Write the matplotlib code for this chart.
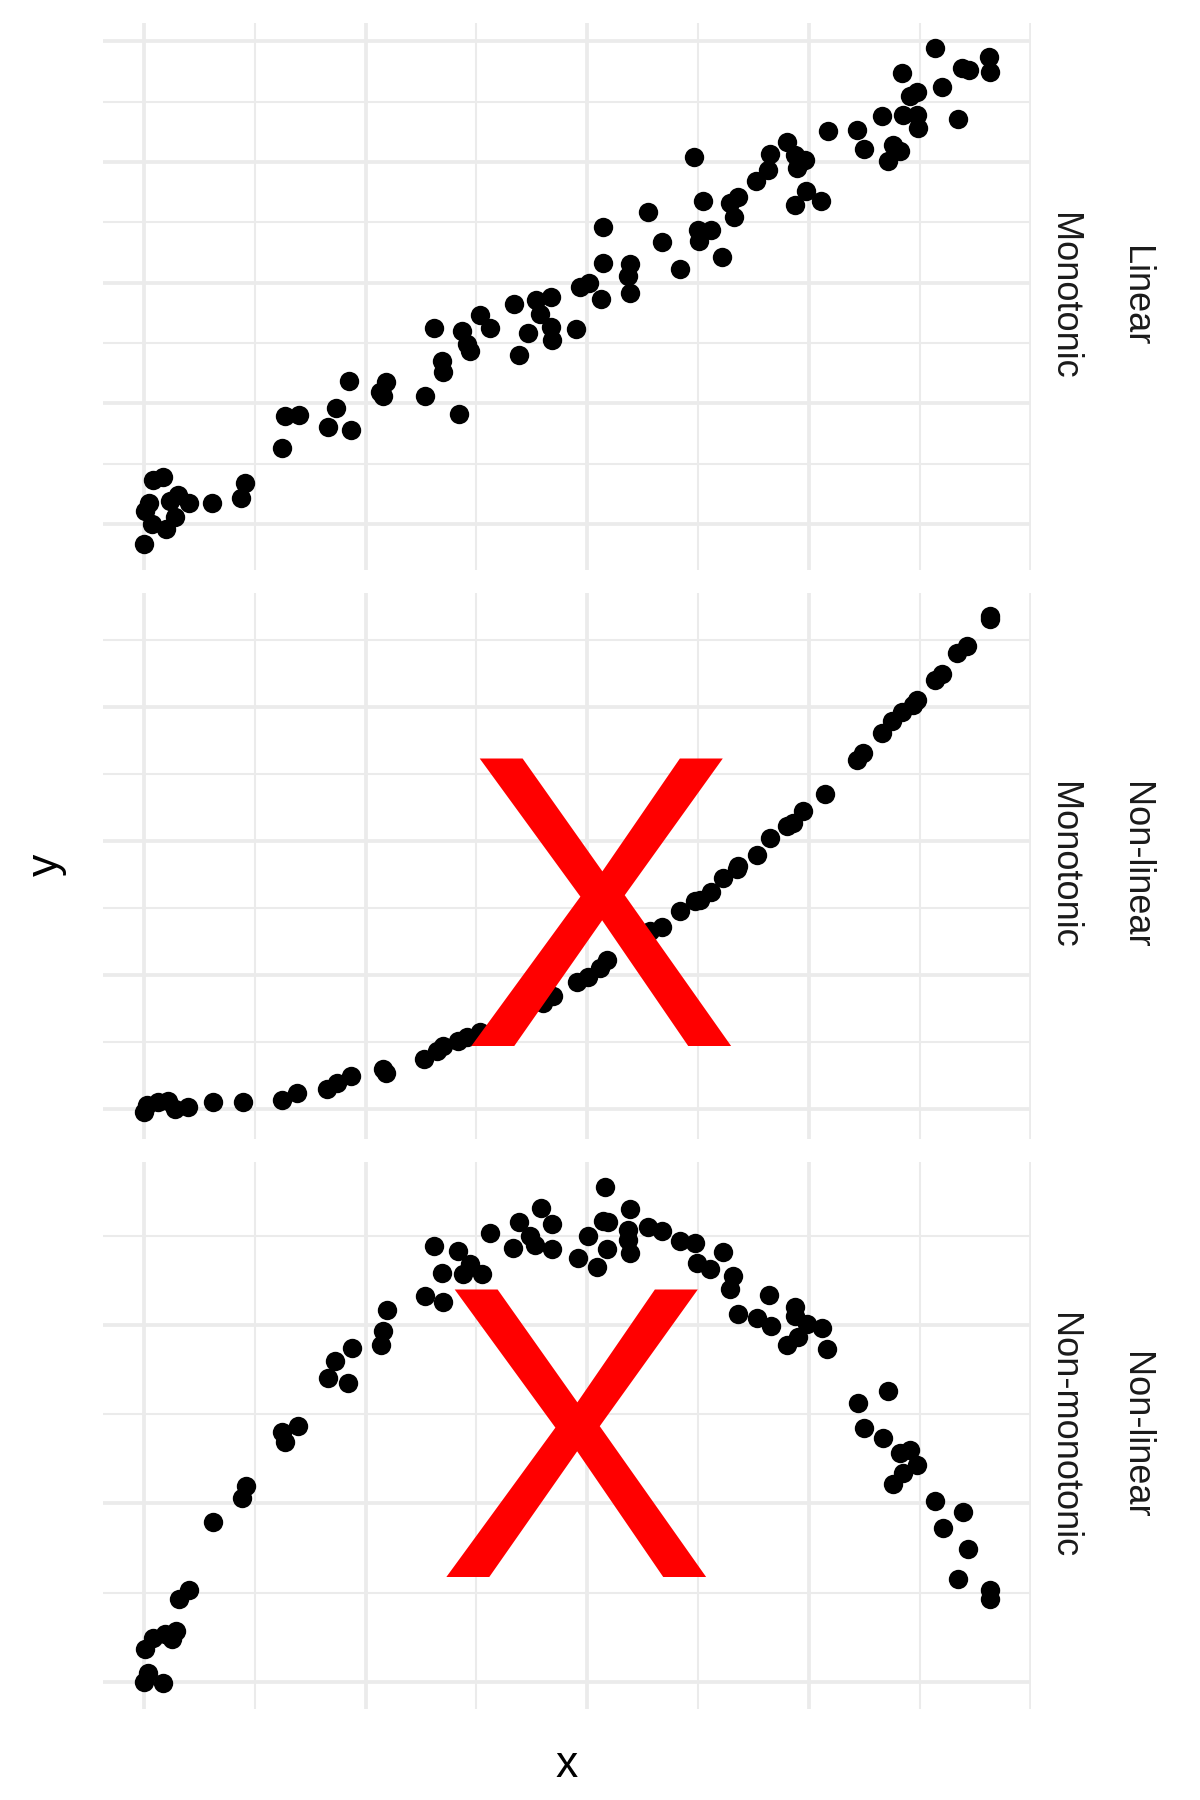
import matplotlib
matplotlib.use('Agg')
import matplotlib.pyplot as plt
from matplotlib.ticker import MultipleLocator

# values (x on a 0-100 scale, y in panel units)
lin_x = [0.0, 0.08, 0.51, 0.89, 1.03, 2.19, 2.45, 2.97, 3.53, 3.87, 5.12, 7.72, 10.91, 11.43,
         15.57, 15.87, 17.47, 20.76, 21.66, 23.38, 23.08, 26.62, 26.93, 27.35, 31.67, 32.71,
         33.61, 33.75, 35.52, 35.86, 36.42, 36.77, 37.93, 39.02, 41.74, 42.30, 43.33, 44.20,
         44.71, 45.92, 45.92, 46.04, 48.73, 49.16, 50.24, 51.55, 51.78, 51.78, 54.82, 54.54,
         54.82, 56.83, 58.43, 60.51, 62.02, 62.45, 62.57, 63.01, 63.96, 65.25, 66.10, 66.55,
         67.06, 69.04, 70.43, 70.65, 72.51, 73.46, 74.53, 73.67, 73.46, 74.62, 76.39, 77.12,
         80.45, 81.23, 83.29, 83.90, 84.46, 85.32, 85.46, 85.63, 86.40, 87.18, 87.18, 87.26,
         89.21, 90.07, 91.80, 92.24, 93.09, 95.34, 95.38]
lin_y = [-4.18, 2.71, 4.29, 0.10, 9.13, 9.84, -1.10, 4.70, 1.53, 6.05, 4.45, 4.45, 5.32, 8.43,
         15.78, 22.45, 22.62, 19.99, 24.11, 19.43, 29.66, 27.28, 26.49, 29.49, 26.49, 40.67,
         33.70, 31.48, 22.84, 40.03, 37.20, 35.77, 43.37, 40.59, 45.52, 34.98, 39.56, 46.31,
         43.53, 47.09, 40.76, 38.21, 40.36, 49.08, 49.87, 46.60, 54.05, 61.59, 53.85, 51.46,
         47.84, 64.53, 58.42, 52.87, 76.03, 60.97, 58.59, 66.91, 60.97, 55.25, 66.52, 63.50,
         67.70, 71.12, 73.25, 76.67, 79.03, 76.42, 75.38, 73.64, 66.13, 68.88, 66.91, 81.41,
         81.58, 77.60, 84.58, 75.24, 78.41, 77.21, 93.46, 84.75, 88.70, 89.51, 84.75, 81.97,
         98.68, 90.44, 83.79, 94.42, 94.09, 96.63, 93.61]

exp_x = [0.0, 0.30, 1.61, 2.74, 3.50, 5.00, 7.75, 11.20, 15.53, 17.29, 20.61, 21.80, 23.32,
         26.99, 27.30, 31.58, 33.02, 33.76, 35.45, 36.40, 37.90, 45.04, 46.17, 48.81, 50.12,
         51.44, 52.23, 57.08, 58.43, 60.46, 62.15, 62.72, 63.96, 65.31, 66.86, 67.04, 69.11,
         70.61, 72.50, 73.24, 74.37, 76.82, 80.39, 81.14, 83.21, 84.34, 85.47, 86.78, 87.16,
         89.22, 89.98, 91.67, 92.80, 95.43, 95.43]
exp_y = [-0.63, 0.67, 1.23, 1.34, 0.0, 0.34, 1.23, 1.23, 1.68, 3.00, 3.66, 4.80, 6.14, 7.33,
         6.66, 9.33, 10.67, 11.68, 12.67, 13.36, 14.33, 19.71, 21.10, 23.68, 24.61, 26.24,
         27.73, 33.14, 33.98, 36.78, 38.74, 39.00, 40.42, 43.12, 44.65, 45.33, 47.32, 50.49,
         52.79, 53.29, 55.46, 58.78, 64.97, 66.32, 70.09, 72.33, 74.01, 75.31, 76.32, 79.98,
         81.17, 84.98, 86.32, 91.30, 91.97]

par_x = [0.0, 0.49, 2.18, 0.11, 1.05, 2.37, 3.12, 3.61, 3.95, 5.11, 7.75, 11.02, 11.47, 15.53,
         15.90, 17.41, 20.79, 21.54, 23.04, 23.43, 26.73, 26.99, 27.38, 31.70, 33.76, 33.58,
         32.75, 35.45, 36.02, 36.77, 38.09, 39.03, 41.66, 42.33, 43.54, 44.10, 44.75, 45.99,
         45.99, 48.92, 50.12, 51.07, 52.00, 54.82, 51.81, 52.37, 52.19, 54.63, 54.63, 54.82,
         56.89, 58.40, 60.46, 62.15, 62.35, 63.84, 65.28, 66.47, 66.10, 70.53, 67.04, 69.11,
         70.69, 73.43, 73.43, 74.75, 76.44, 73.81, 72.50, 77.08, 80.51, 83.96, 81.25, 83.33,
         85.28, 86.40, 87.16, 85.65, 84.45, 89.22, 92.35, 90.09, 92.98, 91.85, 95.43, 95.43]
par_y = [0.06, 1.29, -0.21, 4.61, 6.22, 6.75, 5.95, 7.13, 11.68, 12.91, 22.40, 25.77, 27.38,
         35.04, 33.64, 35.78, 42.55, 44.90, 41.85, 46.77, 47.21, 49.08, 52.02, 54.01, 53.26,
         57.22, 60.97, 60.33, 57.11, 58.45, 57.11, 62.90, 60.70, 64.34, 62.47, 61.14, 66.33,
         64.08, 60.61, 59.36, 62.47, 58.03, 69.33, 66.22, 64.51, 64.34, 60.59, 63.27, 61.94,
         60.06, 63.64, 63.17, 61.67, 61.40, 58.62, 57.75, 60.23, 56.84, 55.08, 54.17, 51.49,
         50.95, 49.77, 52.56, 51.23, 50.15, 49.50, 48.27, 47.21, 46.66, 39.00, 40.67, 35.57,
         34.19, 32.05, 32.47, 30.32, 29.25, 27.75, 25.40, 23.79, 21.49, 18.65, 14.36, 12.91,
         11.58]

strip_outer = ['Linear', 'Non-linear', 'Non-linear']
strip_inner = ['Monotonic', 'Monotonic', 'Non-monotonic']
# red X marks: (panel index, x centre, baseline y)
cross_marks = [(1, 51.5, 11.68), (2, 48.7, 14.63)]

panels = [(lin_x, lin_y), (exp_x, exp_y), (par_x, par_y)]
ylims = [(-9.42, 103.76), (-5.67, 96.3), (-3.72, 72.8)]
bottoms = [0.68361, 0.36722, 0.05083]

FONT = 'Liberation Sans'
grid_col = '#EBEBEB'

fig = plt.figure(figsize=(12, 18), dpi=100)
axes = []
for i, (xs, ys) in enumerate(panels):
    ax = fig.add_axes([0.0855, bottoms[i], 0.7737, 0.30361])
    ax.scatter(xs, ys, s=195, c='black', linewidths=0, zorder=3)
    ax.set_xlim(-4.67, 100.06)
    ax.set_ylim(*ylims[i])
    ax.xaxis.set_major_locator(MultipleLocator(25))
    ax.xaxis.set_minor_locator(MultipleLocator(12.5))
    ax.yaxis.set_major_locator(MultipleLocator(25))
    ax.yaxis.set_minor_locator(MultipleLocator(12.5))
    ax.grid(which='major', color=grid_col, linewidth=2.7)
    ax.grid(which='minor', color=grid_col, linewidth=1.5)
    ax.set_axisbelow(True)
    ax.tick_params(which='both', length=0, labelbottom=False, labelleft=False)
    for s in ax.spines.values():
        s.set_visible(False)

    # facet strips on the right
    ax.text(1.1028, 0.5, strip_outer[i], transform=ax.transAxes, rotation=-90,
            rotation_mode='anchor', ha='center', va='baseline', fontsize=26,
            family=FONT, color='#1A1A1A')
    ax.text(1.0248, 0.5, strip_inner[i], transform=ax.transAxes, rotation=-90,
            rotation_mode='anchor', ha='center', va='baseline', fontsize=26,
            family=FONT, color='#1A1A1A')
    axes.append(ax)

for idx, cx, cy in cross_marks:
    axes[idx].text(cx, cy, 'X', color='#FF0000', fontsize=300, ha='center',
                   va='baseline', family=FONT, zorder=4)

fig.text(0.4722, 0.01294, 'x', ha='center', va='baseline', fontsize=32, family=FONT)
fig.text(58 / 1200, 1 - 865 / 1800, 'y', rotation=90, rotation_mode='anchor',
         ha='center', va='baseline', fontsize=32, family=FONT)

fig.savefig('out.png', dpi=100, facecolor='white')
